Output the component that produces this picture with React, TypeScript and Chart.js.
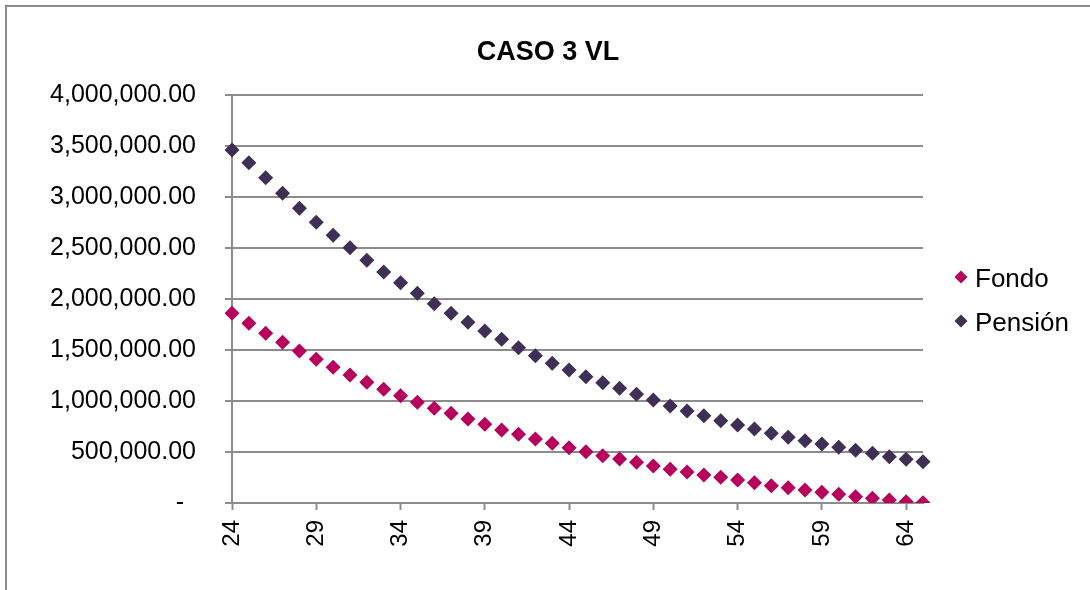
import React, { useEffect, useRef } from "react";
import { Chart, registerables } from "chart.js";

Chart.register(...registerables);

const TITLE = "CASO 3 VL";
const AGES = [
  "24", "25", "26", "27", "28", "29", "30", "31", "32", "33", "34", "35", "36", "37",
  "38", "39", "40", "41", "42", "43", "44", "45", "46", "47", "48", "49", "50", "51",
  "52", "53", "54", "55", "56", "57", "58", "59", "60", "61", "62", "63", "64", "65",
];
const FONDO = [
  1860000, 1762000, 1664000, 1575000, 1490000, 1409000, 1330000, 1255000, 1183000, 1115000,
  1052000, 987000, 928000, 879000, 824000, 772000, 716000, 674000, 627000, 585000,
  542000, 503000, 464000, 431000, 399000, 363000, 330000, 304000, 275000, 252000,
  225000, 199000, 170000, 150000, 127000, 105000, 85000, 62000, 46000, 29000,
  13000, 3000,
];
const PENSION = [
  3461000, 3336000, 3189000, 3036000, 2889000, 2752000, 2625000, 2503000, 2379000, 2265000,
  2160000, 2056000, 1954000, 1860000, 1772000, 1686000, 1605000, 1523000, 1444000, 1370000,
  1304000, 1238000, 1179000, 1125000, 1066000, 1010000, 951000, 902000, 856000, 807000,
  765000, 725000, 683000, 644000, 611000, 578000, 546000, 517000, 487000, 454000,
  428000, 405000,
];
const SERIES_NAMES = ["Fondo", "Pensión"];
const SERIES_COLORS = ["#B6005C", "#3F2F55"];
const Y_MAX = 4000000;
const Y_STEP = 500000;

const FONT = "'Liberation Sans', Arial, sans-serif";
const GRID = "#8c8c8c";

const titleLegendPlugin = {
  id: "titleLegend",
  afterDraw(chart: any) {
    const ctx = chart.ctx;
    ctx.save();
    ctx.fillStyle = "#000";
    ctx.font = `bold 27px ${FONT}`;
    ctx.textAlign = "center";
    ctx.textBaseline = "middle";
    ctx.fillText(TITLE, 548, 53);
    chart.data.datasets.forEach((ds: any, i: number) => {
      const cy = 277 + i * 44;
      const cx = 961;
      const r = 6.5;
      ctx.fillStyle = ds.backgroundColor;
      ctx.beginPath();
      ctx.moveTo(cx - r, cy);
      ctx.lineTo(cx, cy - r);
      ctx.lineTo(cx + r, cy);
      ctx.lineTo(cx, cy + r);
      ctx.closePath();
      ctx.fill();
      ctx.fillStyle = "#000";
      ctx.font = `26px ${FONT}`;
      ctx.textAlign = "left";
      ctx.textBaseline = "middle";
      ctx.fillText(ds.label, 975, cy + 3);
    });
    ctx.restore();
  },
};

export default function App() {
  const ref = useRef<HTMLCanvasElement>(null);
  useEffect(() => {
    if (!ref.current) return;
    const chart = new Chart(ref.current, {
      type: "line",
      data: {
        labels: AGES,
        datasets: [FONDO, PENSION].map((d, i) => ({
          label: SERIES_NAMES[i],
          data: d,
          showLine: false,
          backgroundColor: SERIES_COLORS[i],
          borderColor: SERIES_COLORS[i],
          pointStyle: "rectRot",
          pointRadius: 7.5,
          pointBorderWidth: 0,
          pointHoverRadius: 7.5,
        })),
      },
      options: {
        animation: false,
        responsive: false,
        maintainAspectRatio: false,
        events: [],
        layout: { padding: { left: 0, right: 167, top: 95, bottom: 0 } },
        plugins: {
          legend: { display: false },
          tooltip: { enabled: false },
          title: { display: false },
        },
        scales: {
          x: {
            offset: false,
            grid: {
              drawOnChartArea: false,
              drawTicks: true,
              tickLength: 7,
              tickWidth: 2,
              tickColor: (c: any) => (c.index % 5 === 0 ? GRID : "rgba(0,0,0,0)"),
            },
            border: { color: GRID, width: 2 },
            ticks: {
              autoSkip: false,
              minRotation: 90,
              maxRotation: 90,
              padding: 10,
              color: "#000",
              font: { family: FONT, size: 24 },
              callback: (_v: any, idx: number) => (idx % 5 === 0 ? AGES[idx] : ""),
            },
            afterFit: (s: any) => {
              s.height = 87;
            },
          },
          y: {
            min: 0,
            max: Y_MAX,
            grid: { color: GRID, lineWidth: 2, tickLength: 7 },
            border: { color: GRID, width: 2 },
            ticks: {
              stepSize: Y_STEP,
              padding: 29,
              color: "#000",
              font: { family: FONT, size: 25 },
              callback: (v: any) =>
                Number(v) === 0
                  ? "- \u2009"
                  : Number(v).toLocaleString("en-US", {
                      minimumFractionDigits: 2,
                      maximumFractionDigits: 2,
                    }),
            },
            afterFit: (s: any) => {
              s.width = 232;
            },
          },
        },
      },
      plugins: [titleLegendPlugin],
    });
    return () => chart.destroy();
  }, []);

  return (
    <div style={{ position: "absolute", left: 0, top: 0, width: 1090, height: 590, background: "#fff", overflow: "hidden" }}>
      <div
        style={{
          position: "absolute",
          left: 5,
          top: 5,
          width: 1200,
          height: 700,
          borderTop: "2px solid #8c8c8c",
          borderLeft: "2px solid #8c8c8c",
        }}
      />
      <canvas ref={ref} width={1090} height={590} style={{ position: "absolute", left: 0, top: 0 }} />
    </div>
  );
}
